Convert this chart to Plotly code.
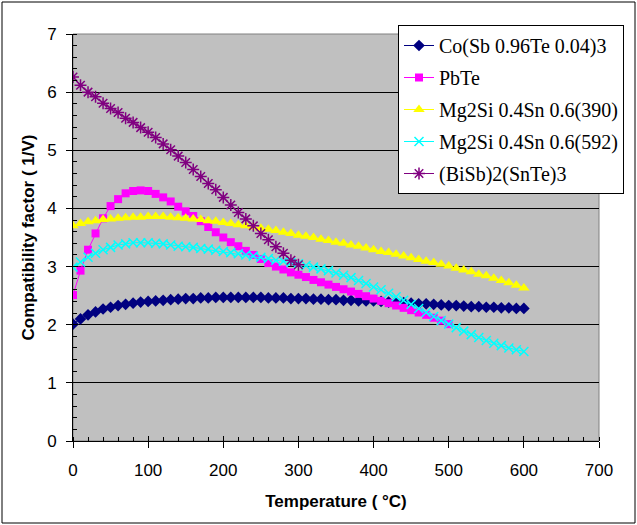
import plotly.graph_objects as go

temperature = [0, 10, 20, 30, 40, 50, 60, 70, 80, 90,
               100, 110, 120, 130, 140, 150, 160, 170, 180, 190,
               200, 210, 220, 230, 240, 250, 260, 270, 280, 290,
               300, 310, 320, 330, 340, 350, 360, 370, 380, 390,
               400, 410, 420, 430, 440, 450, 460, 470, 480, 490,
               500, 510, 520, 530, 540, 550, 560, 570, 580, 590, 600]

co_sbte = [2.01, 2.10, 2.17, 2.22, 2.27, 2.30, 2.33, 2.35, 2.37, 2.39,
           2.40, 2.41, 2.42, 2.43, 2.44, 2.45, 2.45, 2.46, 2.46, 2.47,
           2.47, 2.47, 2.47, 2.47, 2.47, 2.47, 2.46, 2.46, 2.46, 2.45,
           2.45, 2.45, 2.44, 2.44, 2.43, 2.43, 2.42, 2.42, 2.41, 2.41,
           2.41, 2.40, 2.39, 2.39, 2.38, 2.37, 2.36, 2.36, 2.35, 2.34,
           2.33, 2.33, 2.32, 2.31, 2.31, 2.30, 2.30, 2.29, 2.29, 2.28, 2.28]

pbte = [2.51, 2.93, 3.29, 3.57, 3.83, 4.04, 4.16, 4.26, 4.30, 4.31,
        4.30, 4.25, 4.19, 4.12, 4.03, 3.95, 3.87, 3.78, 3.68, 3.59,
        3.50, 3.42, 3.35, 3.27, 3.20, 3.13, 3.06, 3.00, 2.95, 2.90,
        2.86, 2.82, 2.77, 2.73, 2.69, 2.65, 2.61, 2.57, 2.53, 2.49,
        2.45, 2.41, 2.37, 2.33, 2.29, 2.25, 2.21, 2.17, 2.12, 2.07, 2.01]

mg2si_390 = [3.70, 3.74, 3.77, 3.79, 3.81, 3.82, 3.83, 3.84, 3.85, 3.85,
             3.86, 3.86, 3.86, 3.85, 3.84, 3.83, 3.82, 3.81, 3.79, 3.78,
             3.76, 3.74, 3.72, 3.70, 3.68, 3.66, 3.64, 3.62, 3.59, 3.57,
             3.54, 3.52, 3.50, 3.47, 3.45, 3.42, 3.40, 3.37, 3.35, 3.32,
             3.29, 3.26, 3.24, 3.21, 3.18, 3.15, 3.12, 3.09, 3.07, 3.04,
             3.01, 2.97, 2.94, 2.91, 2.87, 2.84, 2.80, 2.76, 2.72, 2.68, 2.63]

mg2si_592 = [2.99, 3.08, 3.16, 3.23, 3.29, 3.33, 3.37, 3.39, 3.41, 3.41,
             3.41, 3.40, 3.39, 3.37, 3.35, 3.34, 3.33, 3.31, 3.30, 3.28,
             3.26, 3.24, 3.22, 3.20, 3.18, 3.16, 3.14, 3.11, 3.09, 3.07,
             3.05, 3.02, 2.99, 2.96, 2.93, 2.89, 2.85, 2.81, 2.76, 2.71,
             2.65, 2.60, 2.54, 2.48, 2.42, 2.35, 2.28, 2.21, 2.14, 2.07,
             2.01, 1.95, 1.89, 1.83, 1.78, 1.73, 1.68, 1.64, 1.60, 1.57, 1.54]

bisb_snte = [6.26, 6.12, 6.00, 5.92, 5.81, 5.72, 5.65, 5.55, 5.48, 5.39,
             5.31, 5.22, 5.11, 5.01, 4.90, 4.79, 4.67, 4.55, 4.43, 4.32,
             4.19, 4.06, 3.93, 3.82, 3.70, 3.57, 3.46, 3.34, 3.23, 3.11, 3.03]

series_names = ["Co(Sb 0.96Te 0.04)3", "PbTe", "Mg2Si 0.4Sn 0.6(390)",
                "Mg2Si 0.4Sn 0.6(592)", "(BiSb)2(SnTe)3"]

x_ticks = [0, 100, 200, 300, 400, 500, 600, 700]
y_ticks = [0, 1, 2, 3, 4, 5, 6, 7]

fig = go.Figure()

fig.add_trace(go.Scatter(x=temperature[:len(co_sbte)], y=co_sbte, name=series_names[0],
                         mode="lines+markers", legendgroup="a",
                         line=dict(color="#000080", width=1),
                         marker=dict(symbol="diamond", size=9, color="#000080")))
fig.add_trace(go.Scatter(x=temperature[:len(pbte)], y=pbte, name=series_names[1],
                         mode="lines+markers", legendgroup="b",
                         line=dict(color="#FF00FF", width=1),
                         marker=dict(symbol="square", size=8, color="#FF00FF")))
fig.add_trace(go.Scatter(x=temperature[:len(mg2si_390)], y=mg2si_390, name=series_names[2],
                         mode="lines+markers", legendgroup="c",
                         line=dict(color="#FFFF00", width=1),
                         marker=dict(symbol="triangle-up", size=10, color="#FFFF00")))
fig.add_trace(go.Scatter(x=temperature[:len(mg2si_592)], y=mg2si_592, name=series_names[3],
                         mode="lines+markers", legendgroup="d",
                         line=dict(color="#00FFFF", width=1),
                         marker=dict(symbol="x-thin-open", size=9, color="#00FFFF",
                                     line=dict(color="#00FFFF", width=1.5))))
fig.add_trace(go.Scatter(x=temperature[:len(bisb_snte)], y=bisb_snte, name=series_names[4],
                         mode="lines+markers", legendgroup="e",
                         line=dict(color="#800080", width=1),
                         marker=dict(symbol="asterisk-open", size=10, color="#800080",
                                     line=dict(color="#800080", width=1.5))))

# overlay axes for the inner half of the crossing major ticks
fig.add_trace(go.Scatter(x=[0], y=[0], xaxis="x2", yaxis="y2", mode="markers",
                         marker=dict(opacity=0), showlegend=False, hoverinfo="skip"))

L, R, T, B = 73, 38, 34, 84
W, H = 637, 525
pw, ph = W - L - R, H - T - B

serif = "Liberation Serif"

fig.update_layout(
    width=W, height=H,
    margin=dict(l=L, r=R, t=T, b=B),
    paper_bgcolor="white",
    plot_bgcolor="#C0C0C0",
    font=dict(family="Liberation Sans", size=17, color="black"),
    showlegend=True,
    legend=dict(x=(398 - L) / pw, y=(H - B - 25) / ph, xanchor="left", yanchor="top",
                bgcolor="white", bordercolor="black", borderwidth=1,
                font=dict(family=serif, size=20, color="black"),
                tracegroupgap=3, itemwidth=30),
    xaxis=dict(range=[0, 700], tickvals=x_ticks, ticktext=[str(v) for v in x_ticks],
               showgrid=False, zeroline=False, showline=True, linecolor="black", linewidth=1,
               ticks="outside", ticklen=6, tickcolor="black", ticklabelstandoff=8,
               minor=dict(dtick=20, ticks="inside", ticklen=4, tickcolor="black", showgrid=False),
               title=dict(text="<b>Temperature ( °C)</b>", font=dict(size=17), standoff=15),
               tickfont=dict(size=17)),
    yaxis=dict(range=[0, 7], tickvals=y_ticks, ticktext=[str(v) for v in y_ticks],
               showgrid=True, gridcolor="black", gridwidth=1, zeroline=False,
               showline=True, linecolor="black", linewidth=1,
               ticks="outside", ticklen=6, tickcolor="black", ticklabelstandoff=6,
               minor=dict(dtick=0.2, ticks="inside", ticklen=4, tickcolor="black", showgrid=False),
               title=dict(text="<b>Compatibility factor ( 1/V)</b>", font=dict(size=17), standoff=8),
               tickfont=dict(size=17)),
    xaxis2=dict(range=[0, 700], overlaying="x", anchor="y2", side="bottom",
                tickvals=x_ticks, showticklabels=False, ticks="inside", ticklen=5,
                tickcolor="black", showgrid=False, zeroline=False, showline=False),
    yaxis2=dict(range=[0, 7], overlaying="y", anchor="x2", side="left",
                tickvals=y_ticks, showticklabels=False, ticks="inside", ticklen=5,
                tickcolor="black", showgrid=False, zeroline=False, showline=False),
    shapes=[
        dict(type="rect", xref="paper", yref="paper", x0=0, y0=0, x1=1, y1=1,
             line=dict(color="#808080", width=1), layer="below"),
        dict(type="rect", xref="paper", yref="paper",
             x0=(2 - L) / pw, x1=(W - 2 - L) / pw,
             y0=(H - B - (H - 2)) / ph, y1=(H - B - 2) / ph,
             line=dict(color="black", width=1), layer="below"),
    ],
)

fig.write_html("out.html", config={"displayModeBar": False},
               post_script="document.body.style.margin='0';document.body.style.overflow='hidden';")
